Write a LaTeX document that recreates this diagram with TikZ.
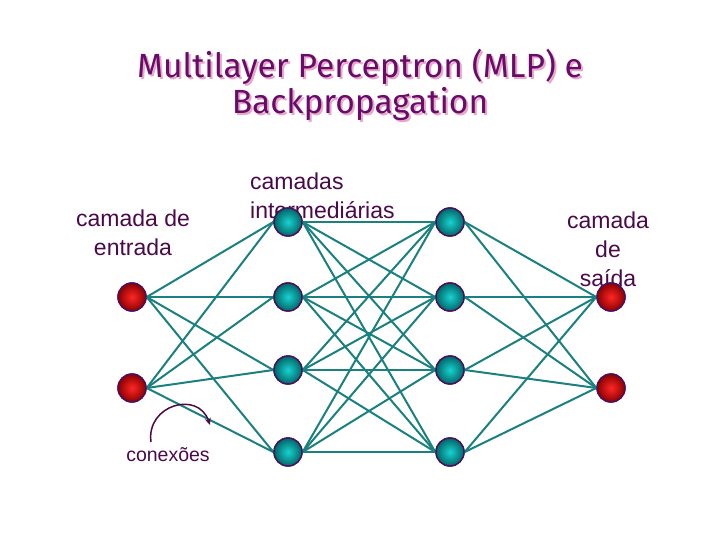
\documentclass[tikz,border=0pt]{standalone}
\usepackage{fontspec}
\setmainfont{Liberation Sans}
\newfontfamily\titlefont{Fira Sans}
\usetikzlibrary{arrows.meta}
\definecolor{tpurple}{HTML}{6A0A6A}
\definecolor{tshadow}{HTML}{E8A8C8}
\definecolor{lpurple}{HTML}{4A0A4A}
\definecolor{edgeteal}{HTML}{1A8080}
\definecolor{nborder}{HTML}{4A1060}
\tikzset{
  neuronred/.style={circle,minimum size=28pt,inner sep=0pt,draw=nborder,line width=1.4pt,
    inner color=red!85!white,outer color=red!55!black},
  neuronteal/.style={circle,minimum size=28pt,inner sep=0pt,draw=nborder,line width=1.4pt,
    inner color=cyan!60!teal!90!white,outer color=teal!80!black},
  conn/.style={draw=edgeteal,line width=2pt},
  lbl/.style={text=lpurple,font=\fontsize{23}{29}\selectfont,inner sep=0pt},
  ttl/.style={font=\titlefont\fontsize{33.5}{36}\selectfont,align=center,inner sep=0pt}
}
\begin{document}
\begin{tikzpicture}[x=1pt,y=-1pt]
\useasboundingbox[fill=white] (0,0) rectangle (720,540);
% title
\node[ttl,text=tshadow] (tsh) at (362,87) {Multilayer Perceptron (MLP) e\\Backpropagation};
\node[ttl,text=tpurple] (title) at (360,85) {Multilayer Perceptron (MLP) e\\Backpropagation};
% labels
\node[lbl,align=center] (lin) at (133,233) {camada de\\entrada};
\node[lbl,align=left,anchor=west] (lhid) at (250,196) {camadas\\intermediárias};
\node[lbl,align=center] (lout) at (608,249) {camada\\de\\saída};
\node[lbl,font=\fontsize{19.5}{22}\selectfont] (lcon) at (168,455) {conexões};
% node positions
\node[neuronred] (i1) at (132,297) {};
\node[neuronred] (i2) at (132,388) {};
\foreach \j/\y in {1/222,2/297,3/370,4/452}{
  \node[neuronteal] (h\j) at (288,\y) {};
  \node[neuronteal] (g\j) at (450,\y) {};
}
\node[neuronred] (o1) at (611,297) {};
\node[neuronred] (o2) at (611,388) {};
% connections
\foreach \a in {1,2}{\foreach \b in {1,2,3,4}{
  \draw[conn] (i\a.east) -- (h\b.west);
  \draw[conn] (g\b.east) -- (o\a.west);
}}
\foreach \a in {1,2,3,4}{\foreach \b in {1,2,3,4}{
  \draw[conn] (h\a.east) -- (g\b.west);
}}
% redraw nodes on top
\node[neuronred] at (i1) {};
\node[neuronred] at (i2) {};
\foreach \j in {1,2,3,4}{
  \node[neuronteal] at (h\j) {};
  \node[neuronteal] at (g\j) {};
}
\node[neuronred] at (o1) {};
\node[neuronred] at (o2) {};
% connexoes arrow
\coordinate (ca) at (151,442);
\coordinate (cb) at (210,425);
\draw[lpurple,line width=1.5pt,-{Stealth[length=7pt,width=6pt]}] (ca) .. controls (146,405) and (198,390) .. (cb);
\end{tikzpicture}
\end{document}
